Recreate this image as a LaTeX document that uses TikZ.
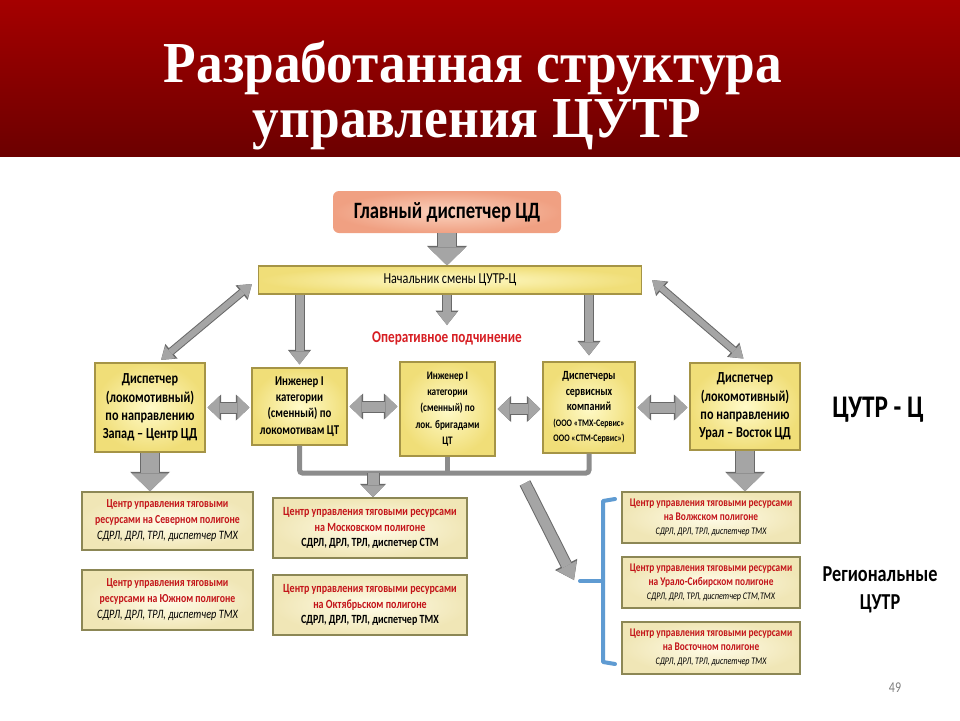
\documentclass[tikz,border=0pt]{standalone}
\usepackage{fontspec}
\setmainfont{Carlito}[FakeStretch=0.8]
\newfontfamily\titlefont{Liberation Serif}[FakeStretch=0.92]
\usetikzlibrary{arrows.meta,calc}
\definecolor{bandtop}{RGB}{165,0,0}
\definecolor{bandbot}{RGB}{108,0,0}
\definecolor{salin}{RGB}{250,210,190}
\definecolor{salout}{RGB}{240,160,130}
\definecolor{yin}{RGB}{255,250,200}
\definecolor{yout}{RGB}{240,222,120}
\definecolor{yborder}{RGB}{165,148,70}
\definecolor{cin}{RGB}{255,252,232}
\definecolor{cout}{RGB}{240,230,182}
\definecolor{cborder}{RGB}{140,135,85}
\definecolor{cred}{RGB}{195,20,25}
\definecolor{opred}{RGB}{215,30,35}
\definecolor{agray}{RGB}{165,165,165}
\definecolor{adark}{RGB}{105,105,105}
\definecolor{busgray}{RGB}{140,140,140}
\definecolor{brblue}{RGB}{95,155,210}
\newcommand{\rl}[1]{\textcolor{cred}{#1}}
\tikzset{
  titletext/.style={text=white, font=\titlefont\bfseries\fontsize{58}{62}\selectfont, inner sep=0pt, anchor=base},
  ybox/.style={draw=yborder, line width=1.1pt, inner color=yin, outer color=yout, align=center, inner sep=1pt},
  cbox/.style={draw=cborder, line width=1.5pt, inner color=cin, outer color=cout, align=center, inner sep=1pt},
  bigarr/.style={line width=18pt, draw=agray, -{Triangle[width=37pt,length=18pt,line width=0pt,fill=agray]},
    preaction={draw=adark, line width=20pt, -{Triangle[width=40pt,length=19.5pt,line width=0pt,fill=adark]}}},
  thinarr/.style={line width=8pt, draw=agray, -{Triangle[width=20pt,length=13pt,line width=0pt,fill=agray]},
    preaction={draw=adark, line width=10pt, -{Triangle[width=23pt,length=14.5pt,line width=0pt,fill=adark]}}},
  midarr/.style={line width=11pt, draw=agray, -{Triangle[width=23pt,length=12pt,line width=0pt,fill=agray]},
    preaction={draw=adark, line width=13pt, -{Triangle[width=26pt,length=13.5pt,line width=0pt,fill=adark]}}},
  diagarr/.style={line width=6pt, draw=agray, {Triangle[width=16pt,length=12pt,line width=0pt,fill=agray]}-{Triangle[width=16pt,length=12pt,line width=0pt,fill=agray]},
    preaction={draw=adark, line width=8pt, {Triangle[width=19pt,length=13.5pt,line width=0pt,fill=adark]}-{Triangle[width=19pt,length=13.5pt,line width=0pt,fill=adark]}}},
  harr/.style={line width=10pt, draw=agray, {Triangle[width=23pt,length=12pt,line width=0pt,fill=agray]}-{Triangle[width=23pt,length=12pt,line width=0pt,fill=agray]},
    preaction={draw=adark, line width=12pt, {Triangle[width=26pt,length=13.5pt,line width=0pt,fill=adark]}-{Triangle[width=26pt,length=13.5pt,line width=0pt,fill=adark]}}},
  slantarr/.style={line width=10pt, draw=agray, -{Triangle[width=22pt,length=16pt,line width=0pt,fill=agray]},
    preaction={draw=adark, line width=12pt, -{Triangle[width=25pt,length=17.5pt,line width=0pt,fill=adark]}}},
  busline/.style={draw=busgray, line width=5pt, rounded corners=3pt},
  bluebr/.style={draw=brblue, line width=4pt, line join=round, line cap=round},
  midtext/.style={font=\bfseries\fontsize{15.3}{18.3}\selectfont},
}
\begin{document}
\begin{tikzpicture}[x=1pt,y=-1pt]
\useasboundingbox (0,0) rectangle (960,720);
\fill[white] (0,0) rectangle (960,720);
\shade[top color=bandtop,bottom color=bandbot] (0,0) rectangle (960,156);
\node[titletext] (t1) at (473,82) {Разработанная структура};
\node[titletext] (t2) at (477,137) {управления ЦУТР};

% top
\node[rounded corners=6pt, inner color=salin, outer color=salout, minimum width=228pt, minimum height=42pt,
      font=\bfseries\fontsize{23.4}{25}\selectfont] (glav) at (447,212) {Главный диспетчер ЦД};
\node[ybox, minimum width=383pt, minimum height=28pt, font=\fontsize{15.2}{17}\selectfont] (nach) at (450,280) {Начальник смены ЦУТР-Ц};
\node[text=opred, font=\bfseries\fontsize{16.5}{18}\selectfont, inner sep=1pt] (op) at (447,338) {Оперативное подчинение};

% middle row
\node[ybox, minimum width=110pt, minimum height=89pt, midtext] (A) at (150,407.5)
  {Диспетчер\\(локомотивный)\\по направлению\\Запад – Центр ЦД};
\node[ybox, minimum width=95pt, minimum height=77pt, font=\bfseries\fontsize{13.5}{16.3}\selectfont] (B) at (299.5,406.5)
  {Инженер I\\категории\\(сменный) по\\локомотивам ЦТ};
\node[ybox, minimum width=95pt, minimum height=94pt, font=\bfseries\fontsize{11.5}{16.2}\selectfont] (C) at (447.5,409)
  {Инженер I\\категории\\(сменный) по\\лок. бригадами\\ЦТ};
\node[ybox, minimum width=92pt, minimum height=91pt, font=\bfseries\fontsize{12.5}{15.5}\selectfont] (D) at (589,407.5)
  {Диспетчеры\\сервисных\\компаний\\{\fontsize{10}{10}\selectfont(ООО «ТМХ-Сервис»}\\{\fontsize{10}{10}\selectfont ООО «СТМ-Сервис»)}};
\node[ybox, minimum width=110pt, minimum height=87pt, midtext] (E) at (745,406.5)
  {Диспетчер\\(локомотивный)\\по направлению\\Урал – Восток ЦД};
\node[font=\bfseries\fontsize{31.5}{34}\selectfont] (cz) at (878,410) {ЦУТР - Ц};

% bottom boxes
\node[cbox, minimum width=171pt, minimum height=58pt, font=\bfseries\fontsize{12.2}{16}\selectfont] (L1) at (167.5,521)
  {\rl{Центр управления тяговыми}\\\rl{ресурсами на Северном полигоне}\\{\mdseries\itshape\fontsize{12.8}{16}\selectfont СДРЛ, ДРЛ, ТРЛ, диспетчер ТМХ}};
\node[cbox, minimum width=171pt, minimum height=60pt, font=\bfseries\fontsize{12.2}{16}\selectfont] (L2) at (167.5,600)
  {\rl{Центр управления тяговыми}\\\rl{ресурсами на Южном полигоне}\\{\mdseries\itshape\fontsize{12.8}{16}\selectfont СДРЛ, ДРЛ, ТРЛ, диспетчер ТМХ}};
\node[cbox, minimum width=194pt, minimum height=60pt, font=\bfseries\fontsize{12.5}{15.5}\selectfont] (M1) at (370,528)
  {\rl{Центр управления тяговыми ресурсами}\\\rl{на Московском полигоне}\\СДРЛ, ДРЛ, ТРЛ, диспетчер СТМ};
\node[cbox, minimum width=194pt, minimum height=60pt, font=\bfseries\fontsize{12.5}{15.5}\selectfont] (M2) at (370,605)
  {\rl{Центр управления тяговыми ресурсами}\\\rl{на Октябрьском полигоне}\\СДРЛ, ДРЛ, ТРЛ, диспетчер ТМХ};
\node[cbox, minimum width=178pt, minimum height=51pt, font=\bfseries\fontsize{11.7}{14}\selectfont] (R1) at (711,517.5)
  {\rl{Центр управления тяговыми ресурсами}\\\rl{на Волжском полигоне}\\{\fontsize{10.1}{14}\selectfont\mdseries\itshape СДРЛ, ДРЛ, ТРЛ, диспетчер ТМХ}};
\node[cbox, minimum width=178pt, minimum height=51pt, font=\bfseries\fontsize{11.7}{14}\selectfont] (R2) at (711,582.5)
  {\rl{Центр управления тяговыми ресурсами}\\\rl{на Урало-Сибирском полигоне}\\{\fontsize{10.1}{14}\selectfont\mdseries\itshape СДРЛ, ДРЛ, ТРЛ, диспетчер СТМ,ТМХ}};
\node[cbox, minimum width=178pt, minimum height=52pt, font=\bfseries\fontsize{11.7}{14}\selectfont] (R3) at (711,648)
  {\rl{Центр управления тяговыми ресурсами}\\\rl{на Восточном полигоне}\\{\fontsize{10.1}{14}\selectfont\mdseries\itshape СДРЛ, ДРЛ, ТРЛ, диспетчер ТМХ}};
\node[font=\bfseries\fontsize{22.8}{28}\selectfont, align=center] (reg) at (880,590) {Региональные\\ЦУТР};
\node[text=gray, font=\fontsize{15}{16}\selectfont] (pg) at (895,688) {49};

% connectors
\draw[bigarr] (glav.south) -- (glav.south |- nach.north);
\draw[thinarr] (nach.south -| B.north) -- ([yshift=3pt]B.north);
\draw[thinarr] (nach.south -| op.north) -- ([yshift=5pt]op.north);
\draw[thinarr] (nach.south -| D.north) -- ([yshift=6pt]D.north);
\draw[diagarr, shorten <=4pt] ([xshift=8pt]A.north) -- ([xshift=-6pt,yshift=-4pt]nach.west);
\draw[diagarr, shorten >=6pt] ([xshift=10pt]nach.east) -- ([xshift=3pt]E.north);
\draw[harr, shorten <=2pt, shorten >=2pt] (A.east) -- (A.east -| B.west);
\draw[harr, shorten <=2pt, shorten >=2pt] (B.east) -- (B.east -| C.west);
\draw[harr, shorten <=2pt, shorten >=2pt] (C.east) -- (C.east -| D.west);
\draw[harr, shorten <=2pt, shorten >=2pt] (D.east) -- (D.east -| E.west);
\draw[bigarr] (A.south) -- (A.south |- L1.north);
\draw[bigarr] (E.south) -- (E.south |- R1.north);

\coordinate (busy) at (0,473);
\draw[busline] (B.south) |- (busy -| D.south) -- (D.south);
\draw[busline] (C.south) -- (C.south |- busy);
\draw[midarr] ([xshift=3pt]M1.north |- busy) -- ([xshift=3pt]M1.north);

\coordinate (dstart) at (525,483);
\coordinate (brk) at (574,580);
\draw[slantarr] (dstart) -- (brk);

\draw[bluebr] (615,499) -- (603,501) -- (603,662) -- (615,664);
\draw[bluebr] (603,581) -- (580,581);
\end{tikzpicture}
\end{document}
